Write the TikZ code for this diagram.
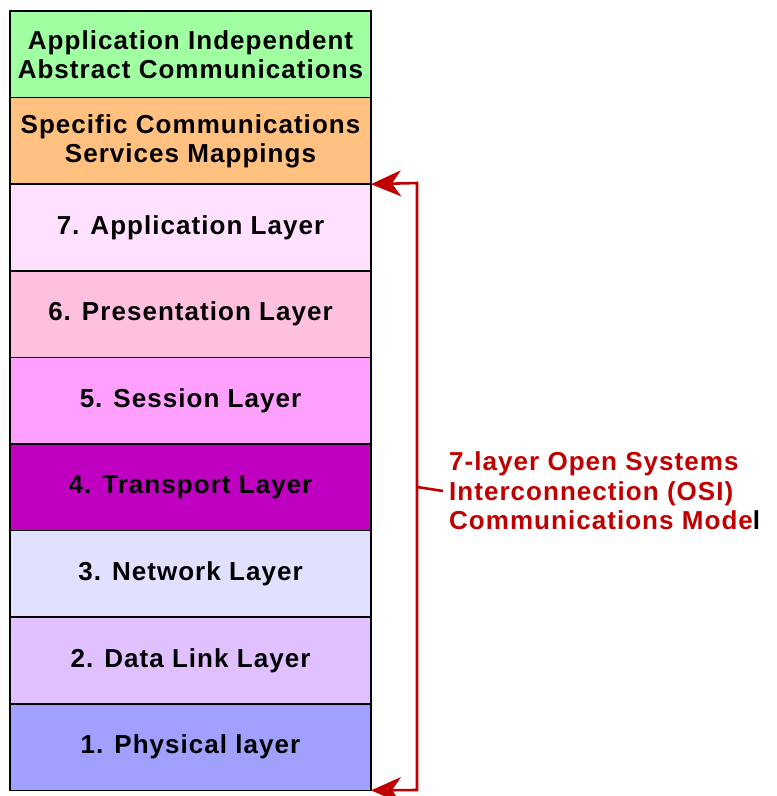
\documentclass[tikz,border=0pt]{standalone}
\usepackage{fontspec}
\setmainfont{Liberation Sans}
\usepackage{tikz}
\usetikzlibrary{arrows.meta,positioning}
\definecolor{absgreen}{HTML}{A0FFA0}
\definecolor{maporange}{HTML}{FFC080}
\definecolor{lseven}{HTML}{FFE0FF}
\definecolor{lsix}{HTML}{FFC0E0}
\definecolor{lfive}{HTML}{FFA0FF}
\definecolor{lfour}{HTML}{C000C0}
\definecolor{lthree}{HTML}{E0E0FF}
\definecolor{ltwo}{HTML}{E0C0FF}
\definecolor{lone}{HTML}{A0A0FF}
\definecolor{osired}{HTML}{C00000}
\newfontfamily\spacedbold[LetterSpace=4]{Liberation Sans Bold}
\tikzset{
  layerbox/.style={
    rectangle, draw=black, fill=#1, line width=1.6pt,
    minimum width=361pt, minimum height=86.6pt,
    outer sep=0pt, inner sep=0pt,
    font=\fontsize{26}{29}\spacedbold, align=center
  },
  layerbox/.default=white,
  bracket/.style={
    {Stealth[length=30pt, width=26pt, inset=9pt]}-{Stealth[length=30pt, width=26pt, inset=9pt]},
    line width=2.6pt, color=osired
  },
  osilabel/.style={
    font=\fontsize{26}{29.5}\spacedbold, text=osired, align=left,
    anchor=west, inner sep=0pt
  }
}
\begin{document}
\begin{tikzpicture}[x=1pt,y=-1pt]
    \useasboundingbox (0,0) rectangle (777,796);
    % stack of layers, top to bottom
    \node[layerbox=absgreen, anchor=north west] (abstract) at (10,11)
        {Application Independent\\Abstract Communications};
    \node[layerbox=maporange, below=0pt of abstract] (mapping)
        {Specific Communications\\Services Mappings};
    \node[layerbox=lseven, below=0pt of mapping] (app) {7. Application Layer};
    \node[layerbox=lsix, below=0pt of app] (pres) {6. Presentation Layer};
    \node[layerbox=lfive, below=0pt of pres] (sess) {5. Session Layer};
    \node[layerbox=lfour, below=0pt of sess] (trans) {4. Transport Layer};
    \node[layerbox=lthree, below=0pt of trans] (net) {3. Network Layer};
    \node[layerbox=ltwo, below=0pt of net] (link) {2. Data Link Layer};
    \node[layerbox=lone, below=0pt of link] (phys) {1. Physical layer};

    % bracket round the seven OSI layers
    \coordinate (brtop) at (417,183);
    \coordinate (brbot) at (417,790);
    \coordinate (brmid) at (417,487);
    \draw[bracket] (app.north east) -- (brtop) -- (brbot) -- (phys.south east);
    \node[osilabel] (osi) at (449,491)
        {7-layer Open Systems\\Interconnection (OSI)\\Communications Mode\textcolor{black}{l}};
    \draw[osired, line width=2.6pt] (brmid) -- ([xshift=-6pt]osi.west);
\end{tikzpicture}
\end{document}
